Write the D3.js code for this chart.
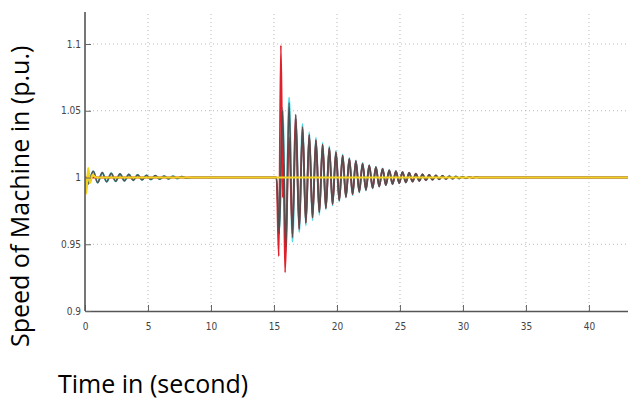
<!DOCTYPE html>
<html><head><meta charset="utf-8">
<script src="https://cdn.jsdelivr.net/npm/d3@7"></script>
<style>
html,body{margin:0;padding:0;background:#fff;}
svg{display:block;}
.tick text{font-family:"Liberation Sans Narrow","DejaVu Sans Condensed","Liberation Sans",sans-serif;font-size:10px;fill:#444;}
.lab{font-family:"Open Sans","Noto Sans",sans-serif;fill:#000;}
</style></head>
<body>
<script>
// ---- data ----
const xTicks = [0, 5, 10, 15, 20, 25, 30, 35, 40];
const yTicks = [0.9, 0.95, 1, 1.05, 1.1];
const yTickLabels = ["0.9", "0.95", "1", "1.05", "1.1"];
const xLabel = "Time in (second)";
const yLabel = "Speed of Machine in (p.u.)";

// start-up transient (time, speed)
const initT = [0, 0.12, 0.25, 0.4, 0.66, 1.0, 1.37, 1.72, 2.08, 2.43, 2.78, 3.13, 3.48, 3.83, 4.18, 4.53, 4.88, 5.23, 5.58, 5.93, 6.28, 6.63, 6.98, 7.33, 7.68, 8.03, 8.5, 15.2];
const grayInit = [1.0, 0.9985, 0.9952, 0.999, 1.0047, 0.9962, 1.0036, 0.9968, 1.0031, 0.9972, 1.0027, 0.9975, 1.0023, 0.9979, 1.002, 0.9982, 1.0017, 0.9985, 1.0014, 0.9988, 1.0011, 0.999, 1.0009, 0.9993, 1.0006, 0.9996, 1.0, 1.0];

const yellowT = [0, 0.1, 0.25, 0.4, 0.6, 0.9, 43.1];
const yellowV = [1.0, 0.988, 1.007, 0.996, 1.002, 1.0, 1.0];

// post-disturbance extrema (time, speed)
const postT = [15.2, 15.42, 15.68, 15.94, 16.2, 16.47, 16.74, 17.0, 17.27, 17.53, 17.8, 18.06, 18.33, 18.6, 18.86, 19.12, 19.39, 19.65, 19.92, 20.18, 20.45, 20.71, 20.98, 21.24, 21.5, 21.77, 22.03, 22.3, 22.56, 22.83, 23.09, 23.35, 23.62, 23.88, 24.15, 24.41, 24.68, 24.94, 25.2, 25.47, 25.73, 26.0, 26.26, 26.53, 26.79, 27.06, 27.32, 27.58, 27.85, 28.11, 28.38, 28.64, 28.91, 29.17, 29.44, 29.7, 29.96, 30.23, 30.5, 30.76, 31.03, 31.3, 43.1];
const grayPost = [1.0, 0.958, 1.05, 0.948, 1.056, 0.955, 1.044, 0.962, 1.038, 0.966, 1.032, 0.970, 1.028, 0.974, 1.0246, 0.977, 1.0222, 0.980, 1.0189, 0.983, 1.0164, 0.9855, 1.0139, 0.9875, 1.0122, 0.9893, 1.0104, 0.9908, 1.009, 0.9922, 1.0077, 0.9934, 1.0065, 0.9944, 1.0054, 0.9952, 1.0047, 0.9958, 1.004, 0.9964, 1.0034, 0.997, 1.0028, 0.9975, 1.0023, 0.998, 1.0019, 0.9984, 1.0015, 0.9987, 1.0012, 0.999, 1.0009, 0.9992, 1.0007, 0.9994, 1.0005, 0.9996, 1.0003, 0.9998, 1.0002, 1.0, 1.0];
const cyanPost = [1.0, 0.962, 1.052, 0.944, 1.06, 0.952, 1.047, 0.959, 1.04, 0.964, 1.034, 0.968, 1.030, 0.972, 1.026, 0.976, 1.0235, 0.979, 1.020, 0.982, 1.0172, 0.985, 1.0146, 0.9868, 1.0128, 0.9887, 1.0109, 0.9903, 1.0094, 0.9918, 1.008, 0.9931, 1.0068, 0.9942, 1.0056, 0.995, 1.0048, 0.9957, 1.0041, 0.9963, 1.0035, 0.9969, 1.0029, 0.9974, 1.0024, 0.9979, 1.002, 0.9983, 1.0016, 0.9986, 1.0013, 0.9989, 1.001, 0.9991, 1.0008, 0.9993, 1.0006, 0.9995, 1.0004, 0.9997, 1.0002, 1.0, 1.0];

const redT = [0, 15.2, 15.38, 15.55, 15.7, 15.76, 15.88, 16.2, 16.46, 16.72, 17.0, 17.27, 17.53, 17.8, 18.06, 18.33, 18.6, 18.86, 19.12, 19.39, 19.65, 19.92, 20.18, 20.45, 20.71, 20.98, 21.24, 21.5, 21.77, 22.03, 22.3, 22.56, 22.83, 23.09, 23.35, 23.62, 23.88, 24.15, 24.41, 24.68, 24.94, 25.2, 25.47, 25.73, 26.0, 26.26, 26.53, 26.79, 27.06, 27.32, 27.58, 27.85, 28.11, 28.38, 28.64, 28.91, 29.17, 29.44, 29.7, 29.96, 30.23, 30.5, 30.76, 31.03, 31.3, 43.1];
const redV = [1.0, 1.0, 0.941, 1.099, 0.985, 1.01, 0.929, 1.03, 0.958, 1.047, 0.961, 1.037, 0.966, 1.032, 0.970, 1.028, 0.974, 1.0246, 0.977, 1.0222, 0.980, 1.0189, 0.983, 1.0164, 0.9855, 1.0139, 0.9875, 1.0122, 0.9893, 1.0104, 0.9908, 1.009, 0.9922, 1.0077, 0.9934, 1.0065, 0.9944, 1.0054, 0.9952, 1.0047, 0.9958, 1.004, 0.9964, 1.0034, 0.997, 1.0028, 0.9975, 1.0023, 0.998, 1.0019, 0.9984, 1.0015, 0.9987, 1.0012, 0.999, 1.0009, 0.9992, 1.0007, 0.9994, 1.0005, 0.9996, 1.0003, 0.9998, 1.0002, 1.0, 1.0];

// ---- drawing ----
const W = 628, H = 401;
const m = {left: 85, right: 0, top: 12, bottom: 90};
const svg = d3.select("body").append("svg").attr("width", W).attr("height", H);

const x = d3.scaleLinear().domain([0, 43.1]).range([m.left, W - m.right]);
const y = d3.scaleLinear().domain([0.9, 1.1]).range([311, 44]);
const yTop = y.invert(m.top);

// grid
const grid = svg.append("g");
grid.selectAll(".gx").data(xTicks.filter(d => d > 0)).enter().append("line")
  .attr("x1", d => x(d)).attr("x2", d => x(d)).attr("y1", y(0.9)).attr("y2", y(yTop))
  .attr("stroke", "#b8b8b8").attr("stroke-width", 1).attr("stroke-dasharray", "1,3");
grid.selectAll(".gy").data(yTicks.filter(d => d > 0.9)).enter().append("line")
  .attr("x1", x(0)).attr("x2", W).attr("y1", d => y(d)).attr("y2", d => y(d))
  .attr("stroke", "#b8b8b8").attr("stroke-width", 1).attr("stroke-dasharray", "1,3");

svg.append("clipPath").attr("id", "clip").append("rect")
  .attr("x", x(0)).attr("y", y(yTop)).attr("width", W - x(0)).attr("height", y(0.9) - y(yTop));

const line = d3.line().x(d => x(d[0])).y(d => y(d[1])).curve(d3.curveMonotoneX);
const plot = svg.append("g").attr("clip-path", "url(#clip)");
const zip = (a, b) => a.map((t, i) => [t, b[i]]);

const cyanData = zip(initT, grayInit).slice(0, -1).concat(zip(postT, cyanPost));
const grayData = zip(initT, grayInit).slice(0, -1).concat(zip(postT, grayPost));

plot.append("path").attr("d", line(cyanData)).attr("fill", "none").attr("stroke", "#52dde8").attr("stroke-width", 2);
plot.append("path").attr("d", line(zip(redT, redV))).attr("fill", "none").attr("stroke", "#e0202a").attr("stroke-width", 1.8);
plot.append("path").attr("d", line(grayData)).attr("fill", "none").attr("stroke", "#505050").attr("stroke-width", 1.7).attr("stroke-opacity", 0.97);
plot.append("path").attr("d", line(zip(yellowT, yellowV))).attr("fill", "none").attr("stroke", "#f2d21c").attr("stroke-width", 2.2);

// axes
const xAxis = d3.axisBottom(x).tickValues(xTicks).tickSizeInner(-6).tickSizeOuter(0).tickPadding(12).tickFormat(d3.format("d"));
const gx = svg.append("g").attr("transform", `translate(0,${y(0.9)})`).call(xAxis);
const yAxis = d3.axisLeft(y).tickValues(yTicks).tickSizeInner(-6).tickSizeOuter(0).tickPadding(2)
  .tickFormat((d, i) => yTickLabels[i]);
const gy = svg.append("g").attr("transform", `translate(${x(0)},0)`).call(yAxis);
gy.select(".domain").attr("d", `M0,${y(0.9)}V${y(yTop)}`);
[gx, gy].forEach(g => {
  g.select(".domain").attr("stroke", "#555").attr("stroke-width", 1.6);
  g.selectAll(".tick line").attr("stroke", "#666");
});
gy.selectAll(".tick text").attr("dx", "-2");

// axis titles
svg.append("text").attr("class", "lab").attr("x", 58).attr("y", 393)
  .attr("font-size", 25).text(xLabel);
svg.append("text").attr("class", "lab")
  .attr("transform", "translate(29,347) rotate(-90)")
  .attr("font-size", 25).text(yLabel);
</script>
</body></html>
